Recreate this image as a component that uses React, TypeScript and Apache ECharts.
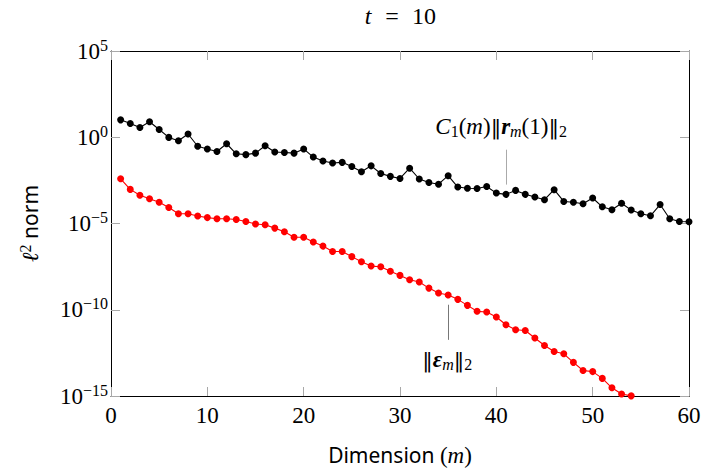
import React, { useEffect, useRef } from "react";
import * as echarts from "echarts";

// m = 1..60
const dims: number[] = Array.from({ length: 60 }, (_, i) => i + 1);

// C_1(m) ||r_m(1)||_2  (black)
const residualBound: number[] = [
  10.2, 6.3, 3.7, 7.9, 2.8, 0.98, 0.63, 1.55, 0.3, 0.21,
  0.15, 0.42, 0.11, 0.098, 0.12, 0.32, 0.14, 0.13, 0.12, 0.21,
  7.1e-2, 4.2e-2, 3.2e-2, 3.5e-2, 2.0e-2, 1.0e-2, 2.2e-2, 7.9e-3, 5.4e-3, 4.1e-3,
  1.6e-2, 3.8e-3, 2.4e-3, 1.9e-3, 5.9e-3, 1.3e-3, 1.1e-3, 1.07e-3, 1.4e-3, 5.8e-4,
  4.9e-4, 8.3e-4, 4.9e-4, 3.4e-4, 2.4e-4, 9.1e-4, 1.9e-4, 1.7e-4, 1.4e-4, 3.0e-4,
  9.3e-5, 6.3e-5, 1.5e-4, 6.0e-5, 3.7e-5, 2.8e-5, 1.26e-4, 1.9e-5, 1.3e-5, 1.26e-5,
];

// ||eps_m||_2  (red), m = 1..54
const errorNorm: number[] = [
  3.9e-3, 9.5e-4, 4.3e-4, 2.7e-4, 1.7e-4, 8.5e-5, 3.7e-5, 3.7e-5, 2.7e-5, 2.2e-5,
  1.9e-5, 1.9e-5, 1.7e-5, 1.3e-5, 9.3e-6, 8.5e-6, 5.4e-6, 3.3e-6, 1.6e-6, 1.6e-6,
  8.5e-7, 4.9e-7, 2.4e-7, 2.4e-7, 1.2e-7, 6.0e-8, 3.4e-8, 3.1e-8, 1.7e-8, 9.8e-9,
  5.5e-9, 4.1e-9, 1.8e-9, 9.3e-10, 7.1e-10, 4.0e-10, 1.8e-10, 8.1e-11, 7.4e-11, 3.8e-11,
  1.35e-11, 6.9e-12, 6.3e-12, 2.3e-12, 8.5e-13, 3.8e-13, 2.8e-13, 8.9e-14, 3.0e-14, 2.6e-14,
  1.05e-14, 3.0e-15, 1.3e-15, 1.02e-15,
];

const xTicks: number[] = [0, 10, 20, 30, 40, 50, 60];
const yTickExponents: number[] = [5, 0, -5, -10, -15];

const SERIF = "'Liberation Serif', 'DejaVu Serif', serif";
const BARS = "'DejaVu Serif', 'DejaVu Sans', serif";
const SANS = "'Noto Sans', 'DejaVu Sans', sans-serif";
const TICK_GRAY = "#a8a8a8";

const supRich = {
  b: { fontFamily: SERIF, fontSize: 23, lineHeight: 28, color: "#000" },
  s: { fontFamily: SERIF, fontSize: 16, lineHeight: 16, verticalAlign: "top", color: "#000" },
};

const mathRich = {
  n: { fontFamily: SERIF, fontSize: 23, fontWeight: "normal", lineHeight: 26, color: "#000" },
  i: { fontFamily: SERIF, fontSize: 23, fontWeight: "normal", fontStyle: "italic", lineHeight: 26, color: "#000" },
  bar: { fontFamily: BARS, fontSize: 21, lineHeight: 26, color: "#000" },
  bi: { fontFamily: SERIF, fontSize: 23, fontStyle: "italic", fontWeight: "bold", lineHeight: 26, color: "#000" },
  sub: { fontFamily: SERIF, fontSize: 16, lineHeight: 16, verticalAlign: "bottom", color: "#000" },
  subi: { fontFamily: SERIF, fontSize: 16, fontStyle: "italic", lineHeight: 16, verticalAlign: "bottom", color: "#000" },
  sup: { fontFamily: SERIF, fontSize: 16, lineHeight: 16, verticalAlign: "top", color: "#000" },
  sans: { fontFamily: SANS, fontSize: 21, lineHeight: 26, color: "#000" },
};

function expLabel(v: number): string {
  const e = Math.round(Math.log10(v));
  if (!yTickExponents.includes(e)) return "";
  const s = e < 0 ? "\u2212" + String(-e) : String(e);
  return `{b|10}{s|${s}}`;
}

export default function App() {
  const ref = useRef<HTMLDivElement>(null);
  useEffect(() => {
    if (!ref.current) return;
    const chart = echarts.init(ref.current, undefined, { renderer: "svg" });
    const tickStyle = { inside: true, length: 9, lineStyle: { color: TICK_GRAY, width: 1 } };
    const xBase = {
      type: "value" as const,
      min: 0,
      max: 60,
      interval: 10,
      splitLine: { show: false },
      axisLine: { show: true, onZero: false, lineStyle: { color: "#000", width: 1 } },
      axisTick: tickStyle,
    };
    const yBase = {
      type: "log" as const,
      logBase: 10,
      min: 1e-15,
      max: 1e5,
      interval: 5,
      splitLine: { show: false },
      minorTick: { show: false },
      axisLine: { show: true, onZero: false, lineStyle: { color: "#000", width: 1 } },
      axisTick: tickStyle,
    };
    const titleText = (text: string, x: number, italic: boolean) => ({
      type: "text",
      x,
      y: 16,
      style: {
        text,
        fill: "#000",
        fontFamily: SERIF,
        fontSize: 24,
        fontStyle: italic ? "italic" : "normal",
        fontWeight: "normal",
        align: "center",
        verticalAlign: "middle",
      },
    });
    chart.setOption({
      animation: false,
      backgroundColor: "#fff",
      grid: {
        left: 111,
        right: 13,
        top: 51,
        bottom: 73,
        containLabel: false,
        outerBoundsMode: "none",
      },
      graphic: [
        titleText("t", 368, true),
        titleText("=", 392, false),
        titleText("10", 424, false),
      ],
      xAxis: [
        {
          ...xBase,
          position: "bottom",
          axisLabel: {
            margin: 8,
            fontFamily: SERIF,
            fontSize: 23,
            color: "#000",
            formatter: (v: number) => (xTicks.includes(v) ? String(v) : ""),
          },
          name: "{sans|Dimension }{n|(}{i|m}{n|)}",
          nameLocation: "middle",
          nameGap: 46,
          nameTextStyle: { rich: mathRich },
        },
        { ...xBase, position: "top", axisLabel: { show: false } },
      ],
      yAxis: [
        {
          ...yBase,
          position: "left",
          axisLabel: { margin: 3, formatter: expLabel, rich: supRich },
          name: "{i|ℓ}{sup|2}{sans| norm}",
          nameLocation: "middle",
          nameGap: 68,
          nameRotate: 90,
          nameTextStyle: { rich: mathRich },
        },
        { ...yBase, position: "right", axisLabel: { show: false } },
      ],
      series: [
        {
          type: "line",
          name: "bound",
          data: dims.map((m, i) => [m, residualBound[i]]),
          color: "#000",
          lineStyle: { color: "#000", width: 1.1 },
          itemStyle: { color: "#000" },
          symbol: "circle",
          symbolSize: 7,
          showSymbol: true,
          clip: false,
          markLine: {
            silent: true,
            symbol: ["none", "none"],
            label: { show: false },
            lineStyle: { color: "#aaa", width: 1, type: "solid" },
            data: [[{ coord: [41, 0.19] }, { coord: [41, 1.8e-3] }]],
          },
          markPoint: {
            silent: true,
            symbol: "circle",
            symbolSize: 1,
            itemStyle: { color: "rgba(0,0,0,0)" },
            label: {
              show: true,
              position: "inside",
              formatter: "{i|C}{sub|1}{n|(}{i|m}{n|)}{bar|‖}{bi|r}{subi|m}{n|(1)}{bar|‖}{sub|2}",
              rich: mathRich,
            },
            data: [{ coord: [40.5, 4.0] }],
          },
        },
        {
          type: "line",
          name: "error",
          data: errorNorm.map((v, i) => [dims[i], v]),
          color: "#ff0000",
          lineStyle: { color: "#ff0000", width: 1.1 },
          itemStyle: { color: "#ff0000" },
          symbol: "circle",
          symbolSize: 7,
          showSymbol: true,
          clip: false,
          markLine: {
            silent: true,
            symbol: ["none", "none"],
            label: { show: false },
            lineStyle: { color: "#777", width: 1, type: "solid" },
            data: [[{ coord: [35, 1.95e-10] }, { coord: [35, 1.8e-12] }]],
          },
          markPoint: {
            silent: true,
            symbol: "circle",
            symbolSize: 1,
            itemStyle: { color: "rgba(0,0,0,0)" },
            label: {
              show: true,
              position: "inside",
              formatter: "{bar|‖}{bi|ε}{subi|m}{bar|‖}{sub|2}",
              rich: mathRich,
            },
            data: [{ coord: [34.9, 1.3e-13] }],
          },
        },
      ],
    });
    return () => chart.dispose();
  }, []);
  return (
    <div
      ref={ref}
      style={{ position: "fixed", left: 0, top: 0, width: 702, height: 469, background: "#fff" }}
    />
  );
}
